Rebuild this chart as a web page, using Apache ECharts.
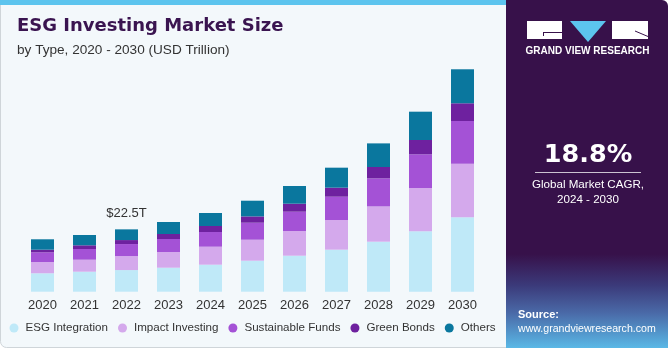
<!DOCTYPE html>
<html>
<head>
<meta charset="utf-8">
<script src="https://cdn.jsdelivr.net/npm/echarts@6/dist/echarts.min.js"></script>
<style>
html,body{margin:0;padding:0;background:#ffffff;}
#chart{width:671px;height:350px;}
</style>
</head>
<body>
<div id="chart"></div>
<script>
const categories = ['2020','2021','2022','2023','2024','2025','2026','2027','2028','2029','2030'];
const esgIntegration   = [6.64, 7.21, 7.80, 8.65, 9.74, 11.18, 12.98, 15.15, 18.03, 21.78, 26.83];
const impactInvesting  = [4.07, 4.33, 5.05, 5.66, 6.49, 7.57, 8.91, 10.71, 12.73, 15.61, 19.33];
const sustainableFunds = [3.50, 3.86, 4.33, 4.69, 5.30, 6.13, 6.96, 8.40, 10.10, 12.15, 15.40];
const greenBonds       = [0.94, 1.33, 1.44, 1.80, 2.16, 2.27, 2.88, 3.25, 4.11, 5.16, 6.38];
const others           = [3.75, 3.71, 3.86, 4.33, 4.69, 5.66, 6.38, 7.21, 8.51, 10.21, 12.26];
const seriesNames = ['ESG Integration','Impact Investing','Sustainable Funds','Green Bonds','Others'];
const seriesColors = ['#bfe9f8','#d4a9ec','#a452d6','#6e219f','#0a779e'];
const annotatedIndex = 2;
const annotationText = '$22.5T';

const font = '"Liberation Sans", Arial, sans-serif';
const wideFont = '"DejaVu Sans", sans-serif';
const chart = echarts.init(document.getElementById('chart'), null, {renderer:'canvas'});

const allData = [esgIntegration, impactInvesting, sustainableFunds, greenBonds, others];
const series = allData.map((arr, si) => ({
  name: seriesNames[si],
  type: 'bar',
  stack: 'total',
  barWidth: 23,
  itemStyle: {color: seriesColors[si]},
  emphasis: {disabled: true},
  data: arr.map((v, i) => {
    if (si === allData.length - 1 && i === annotatedIndex) {
      return {value: v, label: {show: true, position: 'top', distance: 9, formatter: annotationText,
        color: '#333333', fontSize: 13, fontFamily: font}};
    }
    return v;
  })
}));

const option = {
  animation: false,
  backgroundColor: '#ffffff',
  graphic: [
    {type:'rect', z:-10, shape:{x:0.5, y:0.5, width:510, height:347, r:[0,0,0,6]},
      style:{fill:'#f3f8fb', stroke:'#cfd5d9', lineWidth:1}},
    {type:'rect', z:-9, shape:{x:0, y:0, width:508, height:5}, style:{fill:'#5cc4ee'}},
    {type:'rect', z:-8, shape:{x:506, y:0, width:162, height:348, r:[0,6,0,0]},
      style:{fill:{type:'linear', x:0, y:0, x2:0, y2:1, colorStops:[
        {offset:0, color:'#37114a'},
        {offset:0.73, color:'#37114a'},
        {offset:0.82, color:'#3b3a7a'},
        {offset:0.9, color:'#4a6aa8'},
        {offset:1, color:'#5ab8e6'}]}}},
    {type:'text', x:17, y:17, style:{text:'ESG Investing Market Size', font:'bold 18px ' + wideFont, fill:'#3a1450'}},
    {type:'text', x:17, y:43, style:{text:'by Type, 2020 - 2030 (USD Trillion)', font:'13.6px ' + font, fill:'#333333'}},
    // logo
    {type:'rect', shape:{x:527, y:21, width:35, height:18}, style:{fill:'#ffffff'}},
    {type:'line', shape:{x1:543, y1:32.5, x2:562, y2:32.5}, style:{stroke:'#37114a', lineWidth:1}},
    {type:'line', shape:{x1:543.5, y1:32, x2:543.5, y2:36}, style:{stroke:'#37114a', lineWidth:1}},
    {type:'polygon', shape:{points:[[570,21],[606,21],[588,42]]}, style:{fill:'#5cc4ee'}},
    {type:'rect', shape:{x:612, y:21, width:36, height:18}, style:{fill:'#ffffff'}},
    {type:'line', shape:{x1:635, y1:31, x2:648, y2:36.5}, style:{stroke:'#37114a', lineWidth:1}},
    {type:'text', x:587.5, y:51.7, style:{text:'GRAND VIEW RESEARCH', font:'bold 10px ' + font, fill:'#ffffff', align:'center', verticalAlign:'middle'}},
    {type:'text', x:588, y:155, style:{text:'18.8%', font:'bold 25.5px ' + wideFont, fill:'#ffffff', align:'center', verticalAlign:'middle'}},
    {type:'line', shape:{x1:535, y1:172.5, x2:641, y2:172.5}, style:{stroke:'rgba(255,255,255,0.75)', lineWidth:1}},
    {type:'text', x:588, y:185, style:{text:'Global Market CAGR,', font:'11.6px ' + font, fill:'#ffffff', align:'center', verticalAlign:'middle'}},
    {type:'text', x:588, y:200, style:{text:'2024 - 2030', font:'11.6px ' + font, fill:'#ffffff', align:'center', verticalAlign:'middle'}},
    {type:'text', x:518, y:315, style:{text:'Source:', font:'bold 11px ' + font, fill:'#ffffff', verticalAlign:'middle'}},
    {type:'text', x:518, y:329.5, style:{text:'www.grandviewresearch.com', font:'10.6px ' + font, fill:'#ffffff', verticalAlign:'middle'}}
  ],
  legend: {
    left: 9.5, top: 322, padding: 0,
    icon: 'circle', itemWidth: 9, itemHeight: 9, itemGap: 10,
    textStyle: {color:'#333333', fontSize: 11.6, fontFamily: font, padding:[0,0,0,2]},
    data: seriesNames
  },
  grid: {left: 21.5, right: 187.5, top: 42.1, bottom: 58.3, containLabel: false},
  xAxis: {
    type: 'category', data: categories,
    axisLine:{show:false}, axisTick:{show:false},
    axisLabel:{color:'#333333', fontSize:13, fontFamily: font, margin:7}
  },
  yAxis: {type:'value', min:0, max:90, show:false, splitLine:{show:false}},
  series: series
};
chart.setOption(option);
</script>
</body>
</html>
